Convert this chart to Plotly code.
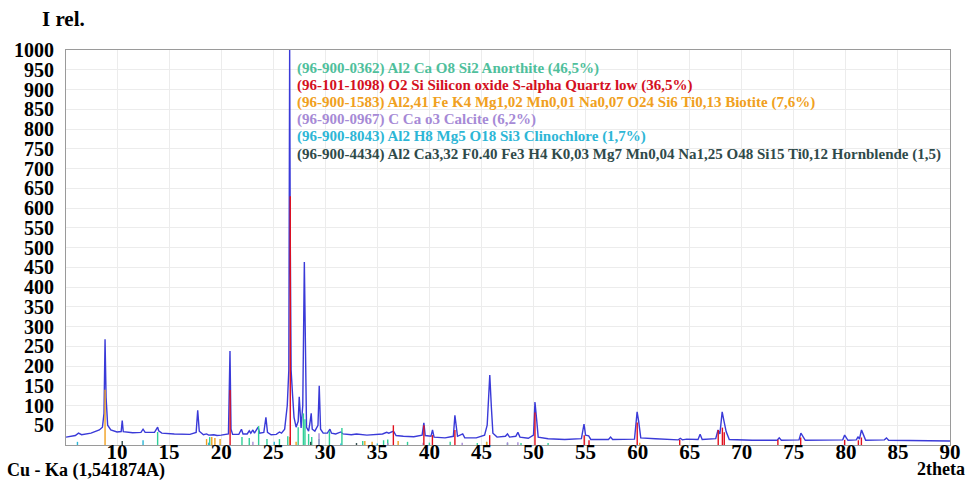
import plotly.graph_objects as go

# ---------------- data ----------------
# observed pattern (2theta, relative intensity)
obs_2theta = [5.1, 6.0, 6.3, 6.6, 7.5, 8.3, 8.6, 8.75, 8.85, 8.95, 9.1, 9.4, 10.0, 10.4, 10.5, 10.6,
              11.5, 12.3, 12.5, 12.7, 13.6, 13.8, 13.9, 14.0, 14.3, 15.5, 17.0, 17.6, 17.75, 17.9,
              18.3, 18.6, 18.8, 19.3, 19.6, 20.0, 20.7, 20.85, 20.95, 21.1, 21.7, 21.95, 22.1, 22.5,
              22.7, 22.85, 23.05, 23.2, 23.55, 23.7, 24.1, 24.3, 24.45, 24.8, 25.3, 25.6, 25.8, 26.1,
              26.35, 26.5, 26.58, 26.64, 26.72, 26.85, 27.0, 27.2, 27.4, 27.5, 27.6, 27.68, 27.84,
              27.99, 28.2, 28.4, 28.55, 28.65, 28.75, 29.0, 29.3, 29.42, 29.55, 29.8, 30.2, 30.45,
              30.6, 31.0, 31.5, 31.7, 32.5, 33.0, 34.0, 34.8, 35.5, 35.9, 36.1, 36.55, 36.8, 37.5,
              38.5, 39.3, 39.47, 39.6, 40.15, 40.3, 40.45, 41.5, 42.3, 42.45, 42.6, 42.7, 43.2, 43.4,
              44.5, 45.3, 45.55, 45.8, 45.95, 46.1, 46.5, 47.3, 47.5, 47.7, 48.3, 48.5, 48.7, 49.5,
              50.0, 50.14, 50.3, 50.45, 51.4, 53.0, 54.6, 54.85, 55.0, 55.3, 55.5, 57.2, 57.4, 57.6,
              59.7, 59.95, 60.1, 60.3, 61.7, 63.9, 64.1, 64.3, 64.7, 65.8, 66.0, 66.2, 67.5, 67.72,
              67.9, 68.12, 68.3, 68.5, 68.8, 71.0, 73.4, 73.6, 73.8, 75.5, 75.68, 75.9, 76.1, 79.7,
              79.88, 80.05, 80.2, 81.0, 81.18, 81.3, 81.5, 81.7, 81.9, 83.7, 83.9, 84.1, 86.0, 90.0]
obs_counts = [20, 24, 30, 26, 30, 38, 45, 80, 268, 120, 50, 38, 33, 34, 62, 34,
              31, 32, 40, 32, 32, 40, 45, 36, 30, 28, 27, 32, 88, 35,
              26, 28, 25, 26, 24, 25, 28, 238, 40, 27, 27, 40, 28, 28,
              36, 30, 38, 30, 45, 30, 32, 70, 32, 26, 27, 33, 30, 40,
              100, 190, 1000, 520, 190, 130, 70, 45, 60, 122, 50, 43, 100,
              463, 45, 35, 60, 80, 40, 35, 50, 150, 40, 30, 30, 40,
              30, 28, 33, 28, 26, 28, 25, 26, 28, 32, 30, 35, 24, 22,
              21, 25, 56, 24, 22, 38, 20, 18, 22, 75, 35, 22, 28, 18,
              18, 25, 50, 177, 97, 30, 20, 22, 28, 20, 22, 32, 20, 17,
              25, 109, 65, 20, 16, 14, 16, 53, 25, 23, 14, 14, 20, 14,
              15, 84, 60, 18, 16, 13, 17, 13, 15, 14, 27, 14, 16, 38,
              28, 84, 60, 34, 14, 12, 12, 18, 12, 13, 30, 22, 12, 13,
              25, 18, 12, 13, 21, 15, 38, 25, 12, 13, 18, 12, 11, 10]

# reference stick patterns
anorthite_pos = [13.9, 18.9, 22.0, 22.7, 23.6, 24.4, 25.6, 26.4, 27.4, 27.9, 28.05, 28.4, 28.7,
                 29.4, 30.4, 31.6, 33.6, 35.6, 36.0, 37.9, 40.0, 42.0, 44.6, 45.5, 47.5, 48.8, 51.4]
anorthite_int = [33, 20, 20, 18, 48, 15, 15, 22, 45, 80, 65, 28, 20,
                 15, 35, 43, 10, 12, 14, 8, 6, 8, 5, 8, 5, 5, 5]
quartz_pos = [20.86, 26.64, 36.54, 39.47, 40.29, 42.45, 45.79, 50.14, 54.87, 55.33, 59.96,
              64.04, 67.74, 68.14, 68.32, 73.47, 75.66, 79.88, 81.2, 81.49]
quartz_int = [139, 630, 50, 50, 25, 38, 25, 82, 25, 12, 57,
              13, 38, 44, 32, 13, 19, 13, 12, 19]
biotite_pos = [8.85, 18.6, 19.1, 19.4, 19.9, 26.6, 27.2, 33.8, 34.5, 37.0, 45.5, 60.2]
biotite_int = [140, 15, 20, 18, 15, 20, 8, 10, 8, 10, 8, 6]
calcite_pos = [23.05, 29.4, 36.0, 39.4, 43.15, 47.5, 48.5]
calcite_int = [8, 30, 5, 6, 6, 7, 7]
clinochlore_pos = [6.2, 12.5, 18.8, 25.1, 31.5, 35.0]
clinochlore_int = [8, 12, 6, 8, 4, 4]
hornblende_pos = [10.5, 28.6, 33.0]
hornblende_int = [10, 8, 5]

x_ticks = [10, 15, 20, 25, 30, 35, 40, 45, 50, 55, 60, 65, 70, 75, 80, 85, 90]
y_ticks = [50, 100, 150, 200, 250, 300, 350, 400, 450, 500, 550, 600, 650, 700, 750,
           800, 850, 900, 950, 1000]

phase_labels = [
    "(96-900-0362) Al2 Ca O8 Si2 Anorthite (46,5%)",
    "(96-101-1098) O2 Si Silicon oxide S-alpha Quartz low (36,5%)",
    "(96-900-1583) Al2,41 Fe K4 Mg1,02 Mn0,01 Na0,07 O24 Si6 Ti0,13 Biotite (7,6%)",
    "(96-900-0967) C Ca o3 Calcite (6,2%)",
    "(96-900-8043) Al2 H8 Mg5 O18 Si3 Clinochlore (1,7%)",
    "(96-900-4434) Al2 Ca3,32 F0.40 Fe3 H4 K0,03 Mg7 Mn0,04 Na1,25 O48 Si15 Ti0,12 Hornblende (1,5)",
]
phase_colors = ["#4fbf9c", "#d4101e", "#f0a020", "#a68ad6", "#2db6d6", "#2f4a4a"]
stick_colors = ["#2fcf98", "#e0101e", "#f0a020", "#a68ad6", "#2db6d6", "#2f4a4a"]

SERIF = "Liberation Serif"

def sticks(pos, inten):
    xs, ys = [], []
    for p, h in zip(pos, inten):
        xs += [p, p, None]
        ys += [0, h, None]
    return xs, ys

fig = go.Figure()
fig.add_trace(go.Scatter(x=obs_2theta, y=obs_counts, mode="lines",
                         line=dict(color="#3a3ad8", width=1.4), hoverinfo="skip"))

stick_sets = [
    (anorthite_pos, anorthite_int, stick_colors[0]),
    (biotite_pos, biotite_int, stick_colors[2]),
    (calcite_pos, calcite_int, stick_colors[3]),
    (clinochlore_pos, clinochlore_int, stick_colors[4]),
    (hornblende_pos, hornblende_int, stick_colors[5]),
    (quartz_pos, quartz_int, stick_colors[1]),
]
for pos, inten, col in stick_sets:
    xs, ys = sticks(pos, inten)
    fig.add_trace(go.Scatter(x=xs, y=ys, mode="lines", line=dict(color=col, width=1.4),
                             hoverinfo="skip"))

xtickfont = dict(family=SERIF, size=21, color="black", weight="bold")
ytickfont = dict(family=SERIF, size=20, color="black", weight="bold")

fig.update_layout(
    width=970, height=482,
    margin=dict(l=66, r=20, t=50, b=37),
    plot_bgcolor="white", paper_bgcolor="white",
    showlegend=False,
    xaxis=dict(range=[5.1, 90], tickvals=x_ticks, ticktext=[str(v) for v in x_ticks],
               showgrid=True, gridcolor="#ececec", gridwidth=1, zeroline=False,
               showline=True, mirror=True, linecolor="#9a9a9a", linewidth=1,
               ticks="", ticklen=0, tickfont=xtickfont, ticklabelstandoff=-12,
               automargin=False),
    yaxis=dict(range=[0, 1000], tickvals=y_ticks, ticktext=[str(v) for v in y_ticks],
               showgrid=True, gridcolor="#ececec", gridwidth=1, zeroline=False,
               showline=True, mirror=True, linecolor="#9a9a9a", linewidth=1,
               ticks="", ticklen=0, tickfont=ytickfont, ticklabelstandoff=7,
               automargin=False),
)

annotations = [
    dict(text="<b>I rel.</b>", xref="paper", yref="paper", x=-0.0294, y=1.078,
         xanchor="left", yanchor="middle", showarrow=False,
         font=dict(family=SERIF, size=21, color="black")),
    dict(text="<b>Cu - Ka (1,541874A)</b>", xref="paper", yref="paper", x=-0.069, y=-0.064,
         xanchor="left", yanchor="middle", showarrow=False,
         font=dict(family=SERIF, size=18, color="black")),
    dict(text="<b>2theta</b>", xref="paper", yref="paper", x=1.0195, y=-0.062,
         xanchor="right", yanchor="middle", showarrow=False,
         font=dict(family=SERIF, size=18, color="black")),
]
for i, (lab, col) in enumerate(zip(phase_labels, phase_colors)):
    annotations.append(dict(text="<b>" + lab + "</b>", xref="paper", yref="paper",
                            x=0.259, y=0.954 - i * 0.0435, xanchor="left", yanchor="middle",
                            showarrow=False, font=dict(family=SERIF, size=15, color=col)))
fig.update_layout(annotations=annotations)

fig.write_html("out.html", config={"displayModeBar": False},
               post_script="document.body.style.margin='0';")
